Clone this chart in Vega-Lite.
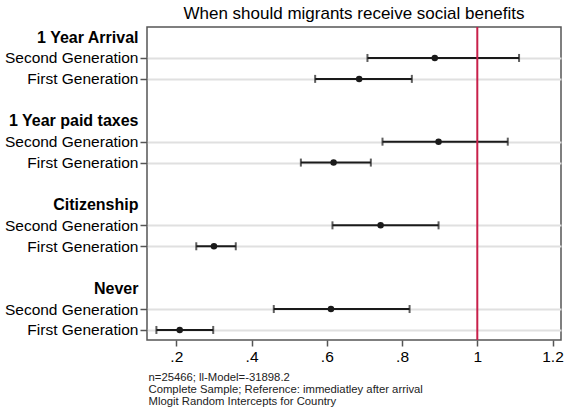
{
  "$schema": "https://vega.github.io/schema/vega-lite/v6.json",
  "autosize": {"type": "none"},
  "padding": {"left": 147, "top": 27, "right": 3, "bottom": 67},
  "width": 414,
  "height": 313,
  "background": "white",
  "config": {
    "font": "Liberation Sans",
    "view": {"stroke": "#555555", "strokeWidth": 1.5}
  },
  "title": {
    "text": "When should migrants receive social benefits",
    "fontSize": 17,
    "fontWeight": "normal",
    "color": "#000000",
    "anchor": "middle",
    "frame": "group",
    "offset": 3
  },
  "data": {
    "values": [
      {"row": "1 Year Arrival|Second Generation", "category": "1 Year Arrival", "generation": "Second Generation", "est": 0.887, "lo": 0.708, "hi": 1.111},
      {"row": "1 Year Arrival|First Generation", "category": "1 Year Arrival", "generation": "First Generation", "est": 0.686, "lo": 0.569, "hi": 0.826},
      {"row": "1 Year paid taxes|Second Generation", "category": "1 Year paid taxes", "generation": "Second Generation", "est": 0.897, "lo": 0.748, "hi": 1.081},
      {"row": "1 Year paid taxes|First Generation", "category": "1 Year paid taxes", "generation": "First Generation", "est": 0.618, "lo": 0.531, "hi": 0.717},
      {"row": "Citizenship|Second Generation", "category": "Citizenship", "generation": "Second Generation", "est": 0.743, "lo": 0.615, "hi": 0.897},
      {"row": "Citizenship|First Generation", "category": "Citizenship", "generation": "First Generation", "est": 0.300, "lo": 0.253, "hi": 0.358},
      {"row": "Never|Second Generation", "category": "Never", "generation": "Second Generation", "est": 0.611, "lo": 0.459, "hi": 0.820},
      {"row": "Never|First Generation", "category": "Never", "generation": "First Generation", "est": 0.209, "lo": 0.147, "hi": 0.298}
    ]
  },
  "encoding": {
    "y": {
      "field": "row",
      "type": "nominal",
      "scale": {
        "type": "point",
        "padding": 0.48,
        "domain": ["1 Year Arrival", "1 Year Arrival|Second Generation", "1 Year Arrival|First Generation", " ",
                   "1 Year paid taxes", "1 Year paid taxes|Second Generation", "1 Year paid taxes|First Generation", "  ",
                   "Citizenship", "Citizenship|Second Generation", "Citizenship|First Generation", "   ",
                   "Never", "Never|Second Generation", "Never|First Generation"]
      },
      "axis": {
        "title": null,
        "domain": false,
        "labelExpr": "indexof(datum.value, '|') >= 0 ? split(datum.value, '|')[1] : trim(datum.value)",
        "labelFontSize": {"condition": {"test": "indexof(datum.value, '|') < 0", "value": 16}, "value": 15.5},
        "labelColor": "#000000",
        "labelFontWeight": {"condition": {"test": "indexof(datum.value, '|') < 0", "value": "bold"}, "value": "normal"},
        "labelPadding": 2,
        "labelLimit": 300,
        "tickSize": 7,
        "tickWidth": 1.5,
        "tickColor": "#555555",
        "tickOpacity": {"condition": {"test": "indexof(datum.value, '|') < 0", "value": 0}, "value": 1},
        "grid": true,
        "gridColor": "#e0e0e0",
        "gridWidth": 1.8,
        "gridOpacity": {"condition": {"test": "indexof(datum.value, '|') < 0", "value": 0}, "value": 1}
      }
    }
  },
  "layer": [
    {
      "mark": {"type": "rule", "color": "#1a1a1a", "strokeWidth": 2},
      "encoding": {
        "x": {
          "field": "lo",
          "type": "quantitative",
          "scale": {"domain": [0.122, 1.2225], "nice": false, "zero": false},
          "axis": {
            "values": [0.2, 0.4, 0.6, 0.8, 1, 1.2],
            "labelExpr": "datum.value < 1 ? substring(format(datum.value, '.1f'), 1) : format(datum.value, '~g')",
            "labelFontSize": 15.5,
            "labelColor": "#000000",
            "labelPadding": 3,
            "labelFlush": false,
            "domain": false,
            "grid": false,
            "tickSize": 6,
            "tickWidth": 1.5,
            "tickColor": "#555555",
            "title": ["n=25466; ll-Model=-31898.2", "Complete Sample; Reference: immediatley after arrival", "Mlogit Random Intercepts for Country"],
            "titleFontSize": 11.3,
            "titleFontWeight": "normal",
            "titleColor": "#222222",
            "titleAlign": "left",
            "titleAnchor": "start",
            "titleBaseline": "top",
            "titleLineHeight": 12,
            "titleX": 1,
            "titleY": 31
          }
        },
        "x2": {"field": "hi"}
      }
    },
    {
      "mark": {"type": "tick", "orient": "vertical", "color": "#1a1a1a", "size": 8, "thickness": 2},
      "encoding": {"x": {"field": "lo", "type": "quantitative"}}
    },
    {
      "mark": {"type": "tick", "orient": "vertical", "color": "#1a1a1a", "size": 8, "thickness": 2},
      "encoding": {"x": {"field": "hi", "type": "quantitative"}}
    },
    {
      "mark": {"type": "point", "filled": true, "color": "#1a1a1a", "opacity": 1, "size": 42},
      "encoding": {"x": {"field": "est", "type": "quantitative"}}
    },
    {
      "data": {"values": [{"reference": 1}]},
      "mark": {"type": "rule", "color": "#c8204a", "strokeWidth": 2},
      "encoding": {"x": {"field": "reference", "type": "quantitative"}, "y": null}
    }
  ]
}
